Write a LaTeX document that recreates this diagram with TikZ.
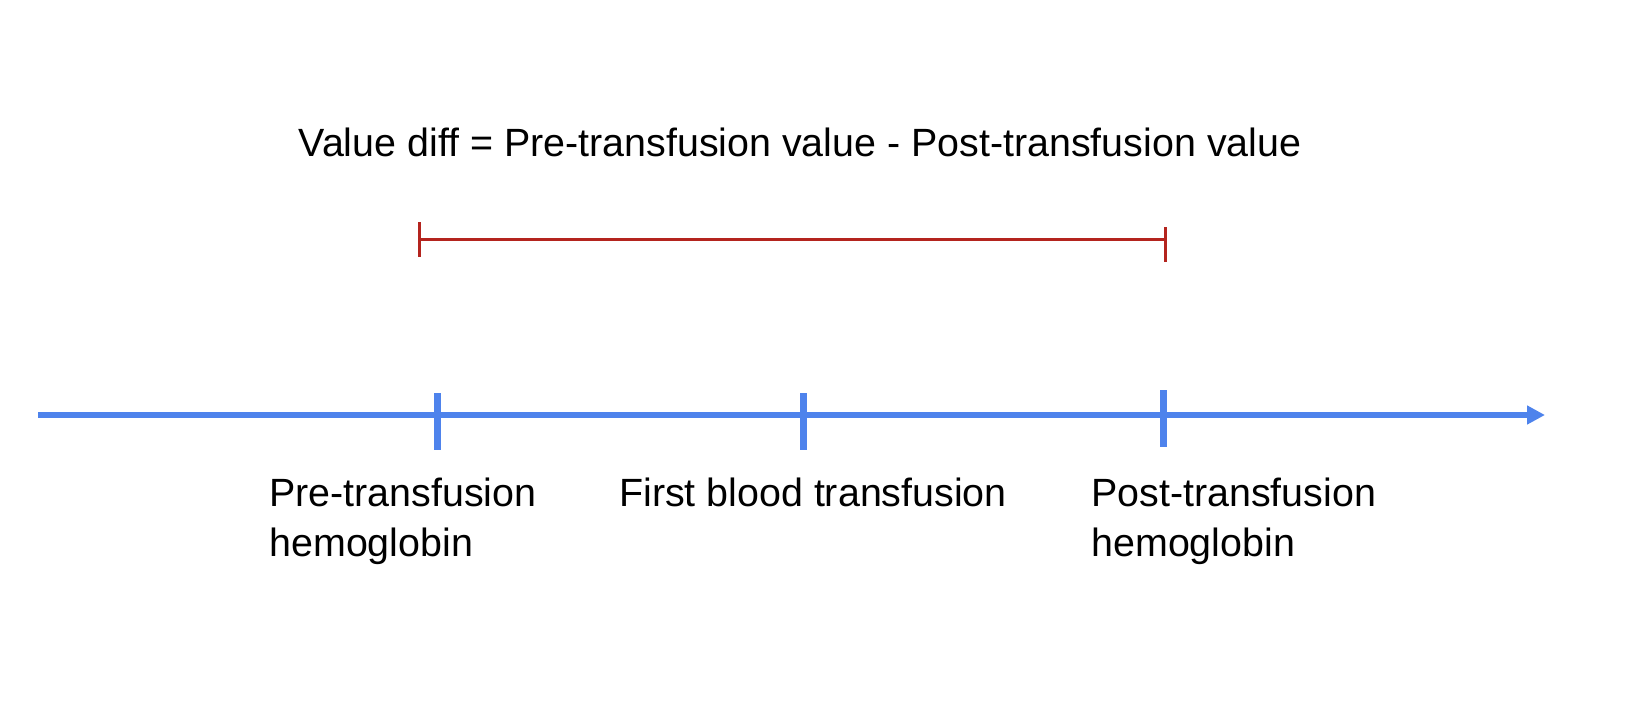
\documentclass[tikz,border=0pt]{standalone}
\usepackage{fontspec}
\setmainfont{Liberation Sans}
\definecolor{axisblue}{RGB}{78,131,236}
\definecolor{diffred}{RGB}{180,36,30}
\usetikzlibrary{arrows.meta,positioning}
\tikzset{
  timeaxis/.style={line width=3pt,draw=axisblue,-{Triangle[length=9pt,width=9pt]}},
  tickmark/.style={line width=3.5pt,draw=axisblue},
  diffbar/.style={line width=1.5pt,draw=diffred},
  lbl/.style={font=\fontsize{19.7}{25}\selectfont,inner sep=0pt,align=left},
}
\begin{document}
\begin{tikzpicture}[x=0.5pt,y=-0.5pt]
  \useasboundingbox (0,0) rectangle (1650,728);

  \node[lbl,anchor=base] (formula) at (800,156)
    {Value diff = Pre-transfusion value - Post-transfusion value};

  % difference bar
  \coordinate (diffL) at (419,239);
  \coordinate (diffR) at (1165,239);
  \draw[diffbar] (diffL) -- (diffR);
  \draw[diffbar] ([yshift=8.5pt]diffL) -- ([yshift=-9pt]diffL);
  \draw[diffbar] ([yshift=6pt]diffR) -- ([yshift=-11.5pt]diffR);

  % time axis
  \coordinate (tstart) at (38,415);
  \coordinate (tend) at (1545,415);
  \draw[timeaxis] (tstart) -- (tend);

  \foreach \name/\x/\top in {pre/437/393, first/803/393, post/1163/390}{
    \coordinate (\name) at (\x,415);
    \draw[tickmark] (\x,\top) -- ++(0,57);
  }

  % base of a two-line node sits on its last line
  \node[lbl,anchor=base west] (prelbl) at (269,556) {Pre-transfusion\\hemoglobin};
  \node[lbl,anchor=base] (firstlbl) at (813,506) {First blood transfusion};
  \node[lbl,anchor=base west] (postlbl) at (1091,556) {Post-transfusion\\hemoglobin};

\end{tikzpicture}
\end{document}
